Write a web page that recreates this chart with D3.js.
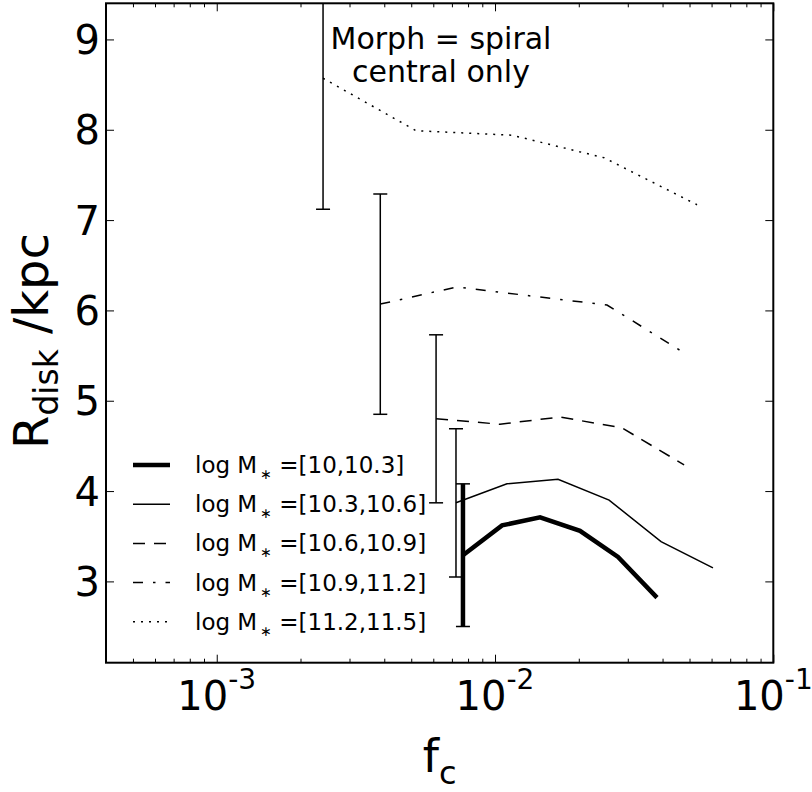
<!DOCTYPE html>
<html>
<head>
<meta charset="utf-8">
<script src="https://cdn.jsdelivr.net/npm/d3@7"></script>
<style>
  body { margin: 0; background: #fff; }
  svg { font-family: "DejaVu Sans", sans-serif; }
</style>
</head>
<body>
<svg id="chart" width="812" height="792"></svg>
<script>
// Disk size vs f_c, one line per stellar mass bin (spiral centrals only)
// values

const massBins = ["[10,10.3]", "[10.3,10.6]", "[10.6,10.9]", "[10.9,11.2]", "[11.2,11.5]"];

const fc1 = [0.00767, 0.0106, 0.01452, 0.0202, 0.02767, 0.0382];
const rd1 = [3.29, 3.62, 3.71, 3.56, 3.27, 2.82];

const fc2 = [0.00724, 0.01104, 0.01684, 0.0257, 0.0395, 0.0607];
const rd2 = [3.87, 4.08, 4.13, 3.90, 3.44, 3.15];

const fc3 = [0.00614, 0.01042, 0.01712, 0.0286, 0.0478];
const rd3 = [4.80, 4.74, 4.82, 4.70, 4.29];

const fc4 = [0.00387, 0.0073, 0.01346, 0.02526, 0.0478];
const rd4 = [6.07, 6.26, 6.16, 6.06, 5.53];

const fc5 = [0.00241, 0.0052, 0.0115, 0.02466, 0.0532];
const rd5 = [8.57, 7.99, 7.94, 7.69, 7.17];

// error bar (+/-) on the first point of each bin
const firstErr = [0.79, 0.82, 0.93, 1.22, 1.45];

const note = ["Morph = spiral", "central only"];

const fcs = [fc1, fc2, fc3, fc4, fc5];
const rds = [rd1, rd2, rd3, rd4, rd5];

// styling per bin
const widths = [4.5, 1.5, 1.5, 1.5, 1.5];
const dashes = [null, null, "12,9", "10,10,2.5,10", "2,6"];

const svg = d3.select("#chart");
const margin = { left: 106, right: 812 - 773.3, top: 3.3, bottom: 792 - 662.7 };
const width = 812, height = 792;

const x = d3.scaleLog()
  .domain([4e-4, 0.1])
  .range([margin.left, width - margin.right]);

const y = d3.scaleLinear()
  .domain([2.1, 9.4])
  .range([height - margin.bottom, margin.top]);

const x0 = x.range()[0], x1 = x.range()[1];
const y0 = y.range()[0], y1 = y.range()[1];

svg.append("defs").append("clipPath").attr("id", "plotclip")
  .append("rect")
  .attr("x", x0).attr("y", y1)
  .attr("width", x1 - x0).attr("height", y0 - y1);

// ticks (inward on all sides)
const allX = x.ticks();
const majorX = allX.filter(d => Math.abs(Math.log10(d) - Math.round(Math.log10(d))) < 1e-9);
const minorX = allX.filter(d => !majorX.includes(d));
const yTicks = y.ticks();

function tickAxis(axis, tx, ty) {
  svg.append("g")
    .attr("transform", `translate(${tx},${ty})`)
    .call(axis)
    .call(g => g.select(".domain").remove())
    .call(g => g.selectAll("text").remove())
    .call(g => g.selectAll("line").attr("stroke", "#000").attr("stroke-width", 1));
}

tickAxis(d3.axisBottom(x).tickValues(majorX).tickSize(-8), 0, y0);
tickAxis(d3.axisBottom(x).tickValues(minorX).tickSize(-4), 0, y0);
tickAxis(d3.axisTop(x).tickValues(majorX).tickSize(-8), 0, y1);
tickAxis(d3.axisTop(x).tickValues(minorX).tickSize(-4), 0, y1);
tickAxis(d3.axisLeft(y).tickValues(yTicks).tickSize(-8), x0, 0);
tickAxis(d3.axisRight(y).tickValues(yTicks).tickSize(-8), x1, 0);

// y tick labels
svg.append("g").selectAll("text")
  .data(yTicks)
  .join("text")
  .attr("x", x0 - 6)
  .attr("y", d => y(d) + 14.5)
  .attr("text-anchor", "end")
  .style("font-size", "40px")
  .text(d => d);

// x tick labels 10^n
const xLab = svg.append("g").selectAll("text")
  .data(majorX)
  .join("text")
  .attr("x", d => x(d))
  .attr("y", 710)
  .attr("text-anchor", "middle")
  .style("font-size", "40px");
xLab.append("tspan").text("10");
xLab.append("tspan")
  .attr("dy", -21)
  .style("font-size", "28px")
  .text(d => "-" + Math.round(-Math.log10(d)));

// lines
const line = d3.line()
  .x(d => x(d[0]))
  .y(d => y(d[1]));

const plot = svg.append("g").attr("clip-path", "url(#plotclip)");

fcs.forEach((fc, i) => {
  const pts = fc.map((f, j) => [f, rds[i][j]]);
  plot.append("path")
    .attr("fill", "none")
    .attr("stroke", "#000")
    .attr("stroke-width", widths[i])
    .attr("stroke-dasharray", dashes[i])
    .attr("d", line(pts));

  // error bar on first point
  const ex = x(fc[0]);
  const lo = y(rds[i][0] - firstErr[i]);
  const hi = y(rds[i][0] + firstErr[i]);
  const eb = plot.append("g").attr("stroke", "#000");
  eb.append("line")
    .attr("x1", ex).attr("x2", ex)
    .attr("y1", lo).attr("y2", hi)
    .attr("stroke-width", widths[i]);
  [lo, hi].forEach(yy => {
    eb.append("line")
      .attr("x1", ex - 7).attr("x2", ex + 7)
      .attr("y1", yy).attr("y2", yy)
      .attr("stroke-width", 1.5);
  });
});

// frame
svg.append("rect")
  .attr("x", x0).attr("y", y1)
  .attr("width", x1 - x0).attr("height", y0 - y1)
  .attr("fill", "none")
  .attr("stroke", "#000")
  .attr("stroke-width", 2);

// annotation
svg.append("g").selectAll("text")
  .data(note)
  .join("text")
  .attr("x", 441)
  .attr("y", (d, i) => 49 + i * 33)
  .attr("text-anchor", "middle")
  .style("font-size", "30px")
  .text(d => d);

// legend
const legend = svg.append("g").attr("transform", "translate(133,465)");
massBins.forEach((bin, i) => {
  const row = legend.append("g").attr("transform", `translate(0,${i * 39.2})`);
  row.append("line")
    .attr("x1", 0).attr("x2", 37)
    .attr("y1", 0).attr("y2", 0)
    .attr("stroke", "#000")
    .attr("stroke-width", widths[i])
    .attr("stroke-dasharray", dashes[i]);
  const t = row.append("text")
    .attr("x", 62)
    .attr("y", 8)
    .style("font-size", "23px");
  t.append("tspan").text("log M");
  t.append("tspan").attr("dx", 3).attr("dy", 6).style("font-size", "14px").text("\u2217");
  t.append("tspan").attr("dy", -6).text(" =" + bin);
});

// axis labels
const yl = svg.append("text")
  .attr("transform", `translate(48,${(y0 + y1) / 2 + 8}) rotate(-90)`)
  .attr("text-anchor", "middle")
  .style("font-size", "48px");
yl.append("tspan").text("R");
yl.append("tspan").attr("dy", 10).style("font-size", "33px").text("disk");
yl.append("tspan").attr("dy", -10).text(" /kpc");

const xl = svg.append("text")
  .attr("x", (x0 + x1) / 2)
  .attr("y", 772)
  .attr("text-anchor", "middle")
  .style("font-size", "46px");
xl.append("tspan").text("f");
xl.append("tspan").attr("dy", 12).style("font-size", "32px").text("c");
</script>
</body>
</html>
